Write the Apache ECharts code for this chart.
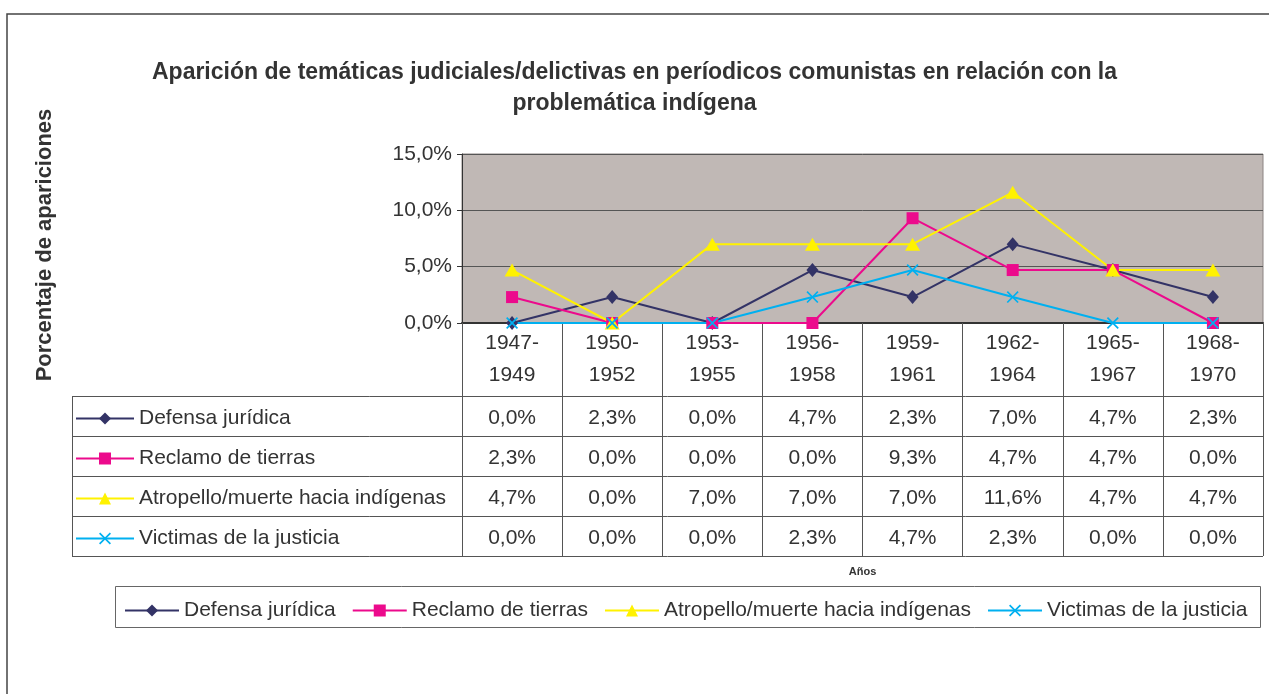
<!DOCTYPE html>
<html>
<head>
<meta charset="utf-8">
<title>Temáticas judiciales/delictivas</title>
<script src="https://cdn.jsdelivr.net/npm/echarts@6/dist/echarts.min.js"></script>
<style>
  html, body { margin: 0; padding: 0; background: #fff; }
  #chart { width: 1269px; height: 694px; }
</style>
</head>
<body>
<div id="chart"></div>
<script>
// datos (porcentaje de apariciones)
const periodos = ['1947-1949', '1950-1952', '1953-1955', '1956-1958', '1959-1961', '1962-1964', '1965-1967', '1968-1970']
const defensaJuridica = [0.0, 2.3, 0.0, 4.7, 2.3, 7.0, 4.7, 2.3]
const reclamoTierras = [2.3, 0.0, 0.0, 0.0, 9.3, 4.7, 4.7, 0.0]
const atropelloMuerte = [4.7, 0.0, 7.0, 7.0, 7.0, 11.6, 4.7, 4.7]
const victimasJusticia = [0.0, 0.0, 0.0, 2.3, 4.7, 2.3, 0.0, 0.0]
const ticksY = [0, 5, 10, 15]

const nombres = ['Defensa jurídica', 'Reclamo de tierras', 'Atropello/muerte hacia indígenas', 'Victimas de la justicia']
const valores = [defensaJuridica, reclamoTierras, atropelloMuerte, victimasJusticia]

const FONT = '"Liberation Sans", Arial, sans-serif'
const TXT = '#333'
const fmt = v => v.toFixed(1).replace('.', ',') + '%'

// zona de trazado y tabla de datos
const plot = {left: 462, right: 1263, top: 154, bottom: 323}
const tabla = {left: 72, top: 396, fila: 40}
const colW = (plot.right - plot.left) / periodos.length
const tablaBottom = tabla.top + tabla.fila * nombres.length

const estilos = [
  {color: '#333366', symbol: 'diamond', symbolSize: [12, 14]},
  {color: '#EC0A8C', symbol: 'rect', symbolSize: 12},
  {color: '#FFF200', symbol: 'triangle', symbolSize: [15, 13]},
  {color: '#00B0F0', symbol: 'path://M0,1L1,0L5,4L9,0L10,1L6,5L10,9L9,10L5,6L1,10L0,9L4,5Z', symbolSize: 12}
]

const chart = echarts.init(document.getElementById('chart'))

const graficos = [
  // marco exterior
  {type: 'rect', shape: {x: 7, y: 14, width: 1300, height: 720}, style: {fill: 'none', stroke: '#444', lineWidth: 1.5}, z: -10},
  {type: 'text', x: 45, y: 245, rotation: Math.PI / 2,
    style: {text: 'Porcentaje de apariciones', font: 'bold 22px ' + FONT, fill: TXT, align: 'center', verticalAlign: 'middle'}},
  // caja de la leyenda
  {type: 'rect', shape: {x: 115.5, y: 586.5, width: 1145, height: 41}, style: {fill: 'none', stroke: '#666', lineWidth: 1}}
]
// lineas de la tabla
graficos.push({type: 'line', shape: {x1: tabla.left + 0.5, y1: tabla.top, x2: tabla.left + 0.5, y2: tablaBottom}, style: {stroke: '#555', lineWidth: 1}})
for (let i = 0; i <= nombres.length; i++) {
  const y = tabla.top + i * tabla.fila + 0.5
  graficos.push({type: 'line', shape: {x1: tabla.left, y1: y, x2: plot.right, y2: y}, style: {stroke: '#555', lineWidth: 1}})
}
valores.forEach((serie, i) => {
  serie.forEach((v, j) => {
    graficos.push({type: 'text', x: plot.left + colW * (j + 0.5), y: tabla.top + tabla.fila * (i + 0.5) + 2,
      style: {text: fmt(v), font: '21px ' + FONT, fill: TXT, align: 'center', verticalAlign: 'middle'}})
  })
})

const option = {
  animation: false,
  textStyle: {fontFamily: FONT},
  title: {
    text: 'Aparición de temáticas judiciales/delictivas en períodicos comunistas en relación con la\nproblemática indígena',
    left: 'center',
    top: 52,
    textStyle: {fontSize: 23, fontWeight: 'bold', color: TXT, lineHeight: 31, fontFamily: FONT}
  },
  legend: [{
    // leyenda dentro de la tabla
    orient: 'vertical',
    left: 75,
    top: tabla.top + tabla.fila / 2 - 8,
    padding: 0,
    itemWidth: 58,
    itemHeight: 15,
    itemGap: tabla.fila - 21,
    selectedMode: false,
    textStyle: {fontSize: 21, color: TXT, lineHeight: 15, fontFamily: FONT},
    data: nombres
  }, {
    left: 124,
    top: 600,
    padding: 0,
    itemWidth: 54,
    itemHeight: 15,
    itemGap: 16,
    selectedMode: false,
    textStyle: {fontSize: 21, color: TXT, lineHeight: 15, fontFamily: FONT},
    data: nombres
  }],
  grid: {
    left: plot.left, right: 1269 - plot.right, top: plot.top, bottom: 694 - plot.bottom,
    show: true, backgroundColor: '#C0B8B5', borderColor: '#8C8482', borderWidth: 1
  },
  xAxis: {
    type: 'category',
    data: periodos,
    boundaryGap: true,
    name: 'Años',
    nameLocation: 'middle',
    nameGap: 572 - plot.bottom,
    nameTextStyle: {fontSize: 11, fontWeight: 'bold', color: TXT, verticalAlign: 'middle'},
    axisLine: {lineStyle: {color: '#333', width: 2}},
    axisTick: {show: true, length: tablaBottom - plot.bottom, interval: 0, lineStyle: {color: '#555', width: 1}},
    axisLabel: {
      interval: 0, margin: 4, fontSize: 21, lineHeight: 32, color: TXT,
      formatter: v => v.replace('-', '-\n')
    },
    splitLine: {show: false}
  },
  yAxis: {
    type: 'value',
    min: ticksY[0],
    max: ticksY[ticksY.length - 1],
    interval: ticksY[1] - ticksY[0],
    axisLine: {show: true, lineStyle: {color: '#333', width: 1}},
    axisTick: {show: true, length: 5, lineStyle: {color: '#333'}},
    axisLabel: {margin: 10, fontSize: 21, color: TXT, formatter: fmt},
    splitLine: {lineStyle: {color: '#555', width: 1}}
  },
  series: nombres.map((n, i) => ({
    name: n,
    type: 'line',
    data: valores[i],
    symbol: estilos[i].symbol,
    symbolSize: estilos[i].symbolSize,
    showAllSymbol: true,
    color: estilos[i].color,
    lineStyle: {width: 2, color: estilos[i].color},
    itemStyle: {color: estilos[i].color}
  })),
  graphic: graficos
}

chart.setOption(option)
window.onresize = function () {
  chart.resize()
}
</script>
</body>
</html>
